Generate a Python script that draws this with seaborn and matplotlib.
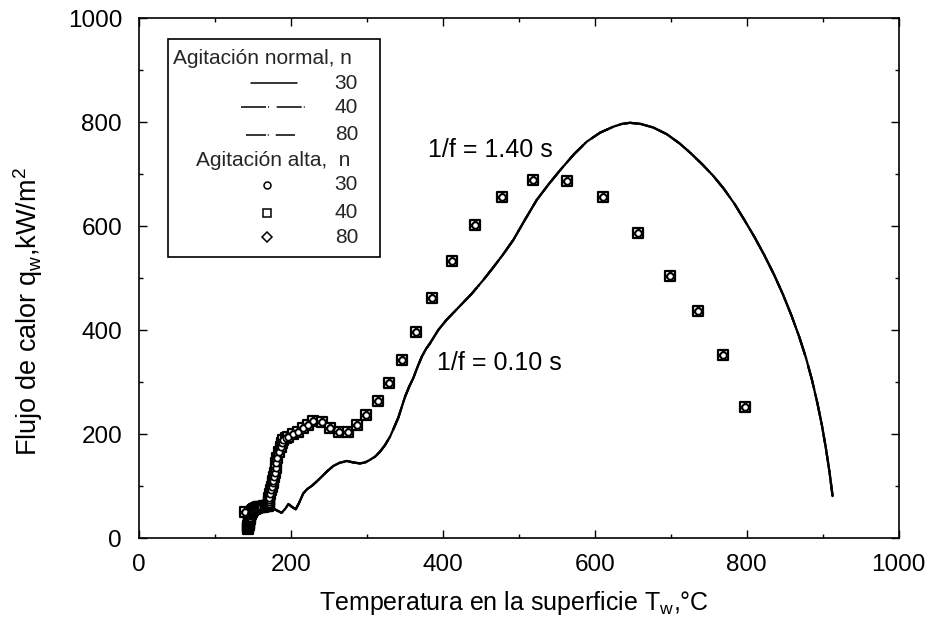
import numpy as np
import pandas as pd
import matplotlib
matplotlib.use("Agg")
import matplotlib.pyplot as plt
import seaborn as sns
from matplotlib.lines import Line2D
from matplotlib.patches import Rectangle
from matplotlib.ticker import MultipleLocator

# ---------------- data ----------------
n_values = [30, 40, 80]

# Agitación normal (the three n curves coincide)
T_normal = [160, 168, 173, 180, 188, 193, 197, 202, 206.6, 211, 216.6, 222, 227.6, 234,
            240.8, 248, 256, 264, 273.7, 282, 291, 298, 304, 311, 317.5, 324, 330.7,
            336, 341.6, 346, 350.4, 356, 361.3, 367, 372.4, 378, 383.3, 394.2, 405,
            422.8, 438, 453.4, 466, 479, 492.9, 508, 523.7, 540, 556.6, 573, 589.5, 607,
            624.5, 636, 646.4, 660, 677, 695, 712, 726, 741, 756, 770, 784, 797, 810,
            823, 836, 848, 859, 869, 878, 886, 893, 899, 904, 909, 913]
q_normal = [58, 60, 61, 55, 49, 57, 66, 60, 55.8, 68, 86.5, 95, 100.6, 109,
            118.5, 129, 139, 145, 148.7, 146, 144, 146, 150.6, 157, 166.5, 179, 195.4,
            213, 232, 252, 272, 292, 308, 330, 349, 364, 375, 400.6, 420,
            447, 470, 496.7, 520, 545, 573.7, 612, 650.6, 682, 711.5, 739, 762.7, 780,
            791.5, 797, 799, 797, 790, 777, 759, 741, 720, 697, 672, 643, 612, 580,
            545, 507, 468, 428, 388, 347, 304, 260, 217, 175, 127, 81]

# Agitación alta (the three n series coincide)
T_alta = [139.5, 143.8, 144, 144.2, 144.4, 144.6, 144.8, 145, 145.2, 145.4, 145.6, 145.8,
          146.1, 146.4, 146.8, 147.2, 147.7, 148.2, 148.7, 149.4, 150.2, 151, 152, 153,
          154.2, 155.5, 157, 158.5, 160, 161.5, 163, 164.5, 166, 167.5, 169, 170.5, 171.5,
          172, 171, 171.5, 172, 172.8, 174, 175, 176.3, 177, 178, 179, 180.3, 181, 181.6,
          184, 186.8, 188.5, 190.3, 193.5, 196.8, 203.4, 210, 216.6, 223.2, 229.7,
          240.8, 251.7, 263.6, 275, 286.8, 299, 315.3, 329.5, 346, 365.3, 386.3,
          412.2, 443, 478.4, 519.2, 564, 611, 656.6, 699.5, 735.5, 768.8, 797.4]
q_alta = [51, 18, 20, 22, 24, 26, 28, 30, 32, 34, 36, 38,
          40, 42, 44, 46, 48, 50, 51, 52.5, 54, 55, 56, 57,
          58, 59, 59.5, 60, 60.5, 61, 61, 61.5, 61.5, 62, 62, 62, 64,
          66, 70, 74, 78, 86, 93, 99, 105.8, 111, 118.5, 126, 134.6, 144, 153.8,
          165, 176, 183, 189, 192, 194, 200, 205, 211.5, 218, 226,
          224, 211.5, 205, 205, 218, 237.7, 264.6, 298, 343, 396, 461.5,
          533, 602, 657, 689, 687.7, 655.8, 587, 503.8, 437, 352.5, 253]

x_ticks = [0, 200, 400, 600, 800, 1000]
y_ticks = [0, 200, 400, 600, 800, 1000]

xlabel = 'Temperatura en la superficie T$_\\mathregular{w}$,°C'
ylabel = 'Flujo de calor q$_\\mathregular{w}$,kW/m$^\\mathregular{2}$'
ann_texts = ['1/f = 1.40 s', '1/f = 0.10 s']
ann_pos = [(381, 746.7), (392, 336.5)]
legend_head = ['Agitación normal, n', 'Agitación alta,  n']

# ---------------- style ----------------
sns.set_theme(style="ticks")
plt.rcParams['font.family'] = ['Liberation Sans', 'DejaVu Sans']
plt.rcParams['mathtext.fontset'] = 'custom'
plt.rcParams['mathtext.rm'] = 'Liberation Sans'
plt.rcParams['mathtext.it'] = 'Liberation Sans:italic'
plt.rcParams['lines.scale_dashes'] = False

W, H = 931, 628
fig = plt.figure(figsize=(W / 100, H / 100), dpi=100)
fig.patch.set_facecolor('white')
L, R, B, T = 138.7, 898.7, 538.3, 18.3
ax = fig.add_axes([L / W, 1 - B / H, (R - L) / W, (B - T) / H])
ax.set_facecolor('white')

dash_map = {30: '', 40: (18, 1.5, 0.7, 5.5), 80: (14.4, 1.3, 0.7, 5.0)}

df_lines = pd.concat([pd.DataFrame({'T': T_normal, 'q': q_normal, 'n': n}) for n in n_values],
                     ignore_index=True)
sns.lineplot(data=df_lines, x='T', y='q', style='n', dashes=dash_map, color='black',
             linewidth=1.6, estimator=None, sort=False, legend=False, ax=ax, zorder=2)

marker_spec = [(40, 's', 7.2, 1.6), (80, 'D', 5.0, 1.0), (30, 'o', 4.5, 1.2)]
for n, mk, ms, ew in marker_spec:
    sns.scatterplot(x=T_alta, y=q_alta, marker=mk, s=ms ** 2, color='white',
                    edgecolor='black', linewidth=ew, legend=False, ax=ax, zorder=3)

for txt, (tx, ty) in zip(ann_texts, ann_pos):
    ax.text(tx, ty, txt, ha='left', va='center', fontsize=18, color='black')

ax.set_xlim(0, 1000)
ax.set_ylim(0, 1000)
ax.set_xticks(x_ticks)
ax.set_yticks(y_ticks)
ax.xaxis.set_minor_locator(MultipleLocator(100))
ax.yaxis.set_minor_locator(MultipleLocator(100))
ax.tick_params(which='both', direction='in', top=True, right=True, color='black')
ax.tick_params(which='major', length=5.5, width=1.0, labelsize=17.5, colors='black')
ax.tick_params(axis='x', which='major', pad=11)
ax.tick_params(axis='y', which='major', pad=12)
ax.tick_params(which='minor', length=3, width=1.0)
for sp in ax.spines.values():
    sp.set_visible(True)
    sp.set_color('black')
    sp.set_linewidth(1.2)

ax.set_xlabel(xlabel, fontsize=18, color='black')
ax.set_ylabel(ylabel, fontsize=19.5, color='black')
ax.xaxis.set_label_coords((513.5 - L) / (R - L), (B - 589) / (B - T))
ax.yaxis.set_label_coords((45 - L) / (R - L), (B - 312) / (B - T))


# ---------------- legend (drawn in pixel layout, axes fraction) ----------------
def P(px, py):
    return ((px - L) / (R - L), (py - B) / (T - B))


x0, y0 = P(168, 257)
x1, y1 = P(380, 39)
ax.add_patch(Rectangle((x0, y0), x1 - x0, y1 - y0, transform=ax.transAxes,
                       facecolor='white', edgecolor='black', linewidth=1.2, zorder=5))
lfs = 15
hx, hy = P(173, 59)
ax.text(hx, hy, legend_head[0], transform=ax.transAxes, fontsize=lfs, ha='left',
        va='center', zorder=6)
hx, hy = P(196, 160)
ax.text(hx, hy, legend_head[1], transform=ax.transAxes, fontsize=lfs, ha='left',
        va='center', zorder=6)

line_rows = [(30, 250.7, 297.3, 83.3), (40, 241, 306.7, 107.3), (80, 246, 295, 135)]
for n, xa, xb, yy in line_rows:
    (ax0, ay), (bx, _) = P(xa, yy), P(xb, yy)
    ln = Line2D([ax0, bx], [ay, ay], transform=ax.transAxes, color='black',
                linewidth=1.1, zorder=6)
    if dash_map[n]:
        ln.set_dashes(dash_map[n])
    ax.add_line(ln)
    lx, ly = P(358, yy)
    ax.text(lx, ly, str(n), transform=ax.transAxes, fontsize=lfs, ha='right',
            va='center', zorder=6)

mk_rows = [(30, 'o', 5.0, 185), (40, 's', 6.0, 212.7), (80, 'D', 5.0, 237.3)]
for n, mk, ms, yy in mk_rows:
    mx, my = P(267.3, yy)
    ax.add_line(Line2D([mx], [my], transform=ax.transAxes, marker=mk, markersize=ms,
                       markerfacecolor='white', markeredgecolor='black',
                       markeredgewidth=1.1, linestyle='none', zorder=6))
    lx, ly = P(358, yy)
    ax.text(lx, ly, str(n), transform=ax.transAxes, fontsize=lfs, ha='right',
            va='center', zorder=6)

fig.savefig('out.png', dpi=100, facecolor='white')
